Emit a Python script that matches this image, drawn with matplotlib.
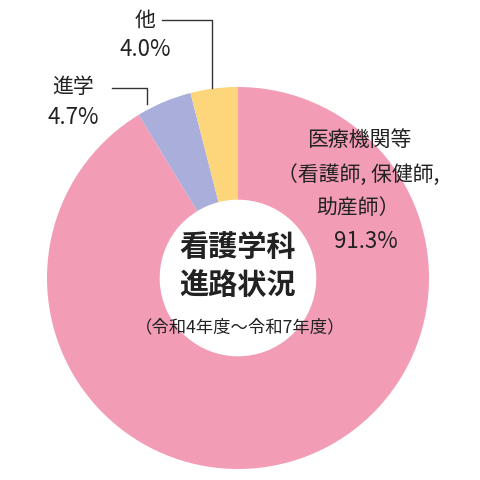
import matplotlib
matplotlib.use("Agg")
import matplotlib.pyplot as plt

plt.rcParams['font.family'] = ['Noto Sans CJK JP', 'DejaVu Sans']

categories = ["医療機関等", "進学", "他"]
values = [91.3, 4.7, 4.0]
colors = ["#F29DB5", "#A9AEDA", "#FDD57B"]

W = H = 480
fig = plt.figure(figsize=(4.8, 4.8), dpi=100)
cx, cy, r = 238, 278, 191
ax = fig.add_axes([(cx - r) / W, 1 - (cy + r) / H, 2 * r / W, 2 * r / H])
ax.pie(values, colors=colors, startangle=90, counterclock=False, radius=1,
       wedgeprops=dict(width=0.59, edgecolor='none'))
ax.set_xlim(-1, 1); ax.set_ylim(-1, 1); ax.set_aspect('equal'); ax.axis('off')

def P(x, y):
    return (x / W, 1 - y / H)

def txt(x, y, s, **kw):
    fig.text(*P(x, y), s, transform=fig.transFigure, color='#222222', **kw)

def line(pts):
    xs = [p[0] / W for p in pts]; ys = [1 - p[1] / H for p in pts]
    fig.add_artist(plt.Line2D(xs, ys, transform=fig.transFigure, color='#333333', lw=1))

# center text
txt(238, 247, "看護学科", ha='center', va='center', fontsize=21, fontweight='bold')
txt(238, 285, "進路状況", ha='center', va='center', fontsize=21, fontweight='bold')
txt(240, 327, "（令和4年度～令和7年度）", ha='center', va='center', fontsize=12.5)

# pink label
txt(359, 140, "医療機関等", ha='center', va='center', fontsize=15)
txt(358, 175, "（看護師, 保健師,", ha='center', va='center', fontsize=15)
txt(358, 208, "助産師）", ha='center', va='center', fontsize=15)
txt(366, 242, f"{values[0]}%", ha='center', va='center', fontsize=16)

# 進学
txt(73, 87, categories[1], ha='center', va='center', fontsize=15)
txt(73, 117, f"{values[1]}%", ha='center', va='center', fontsize=16)
line([(112, 88), (147, 88), (147, 104)])

# 他
txt(145, 21, categories[2], ha='center', va='center', fontsize=15)
txt(145, 50, f"{values[2]}%", ha='center', va='center', fontsize=16)
line([(162, 20), (212, 20), (212, 88)])

fig.savefig("out.png", dpi=100, facecolor='white')
